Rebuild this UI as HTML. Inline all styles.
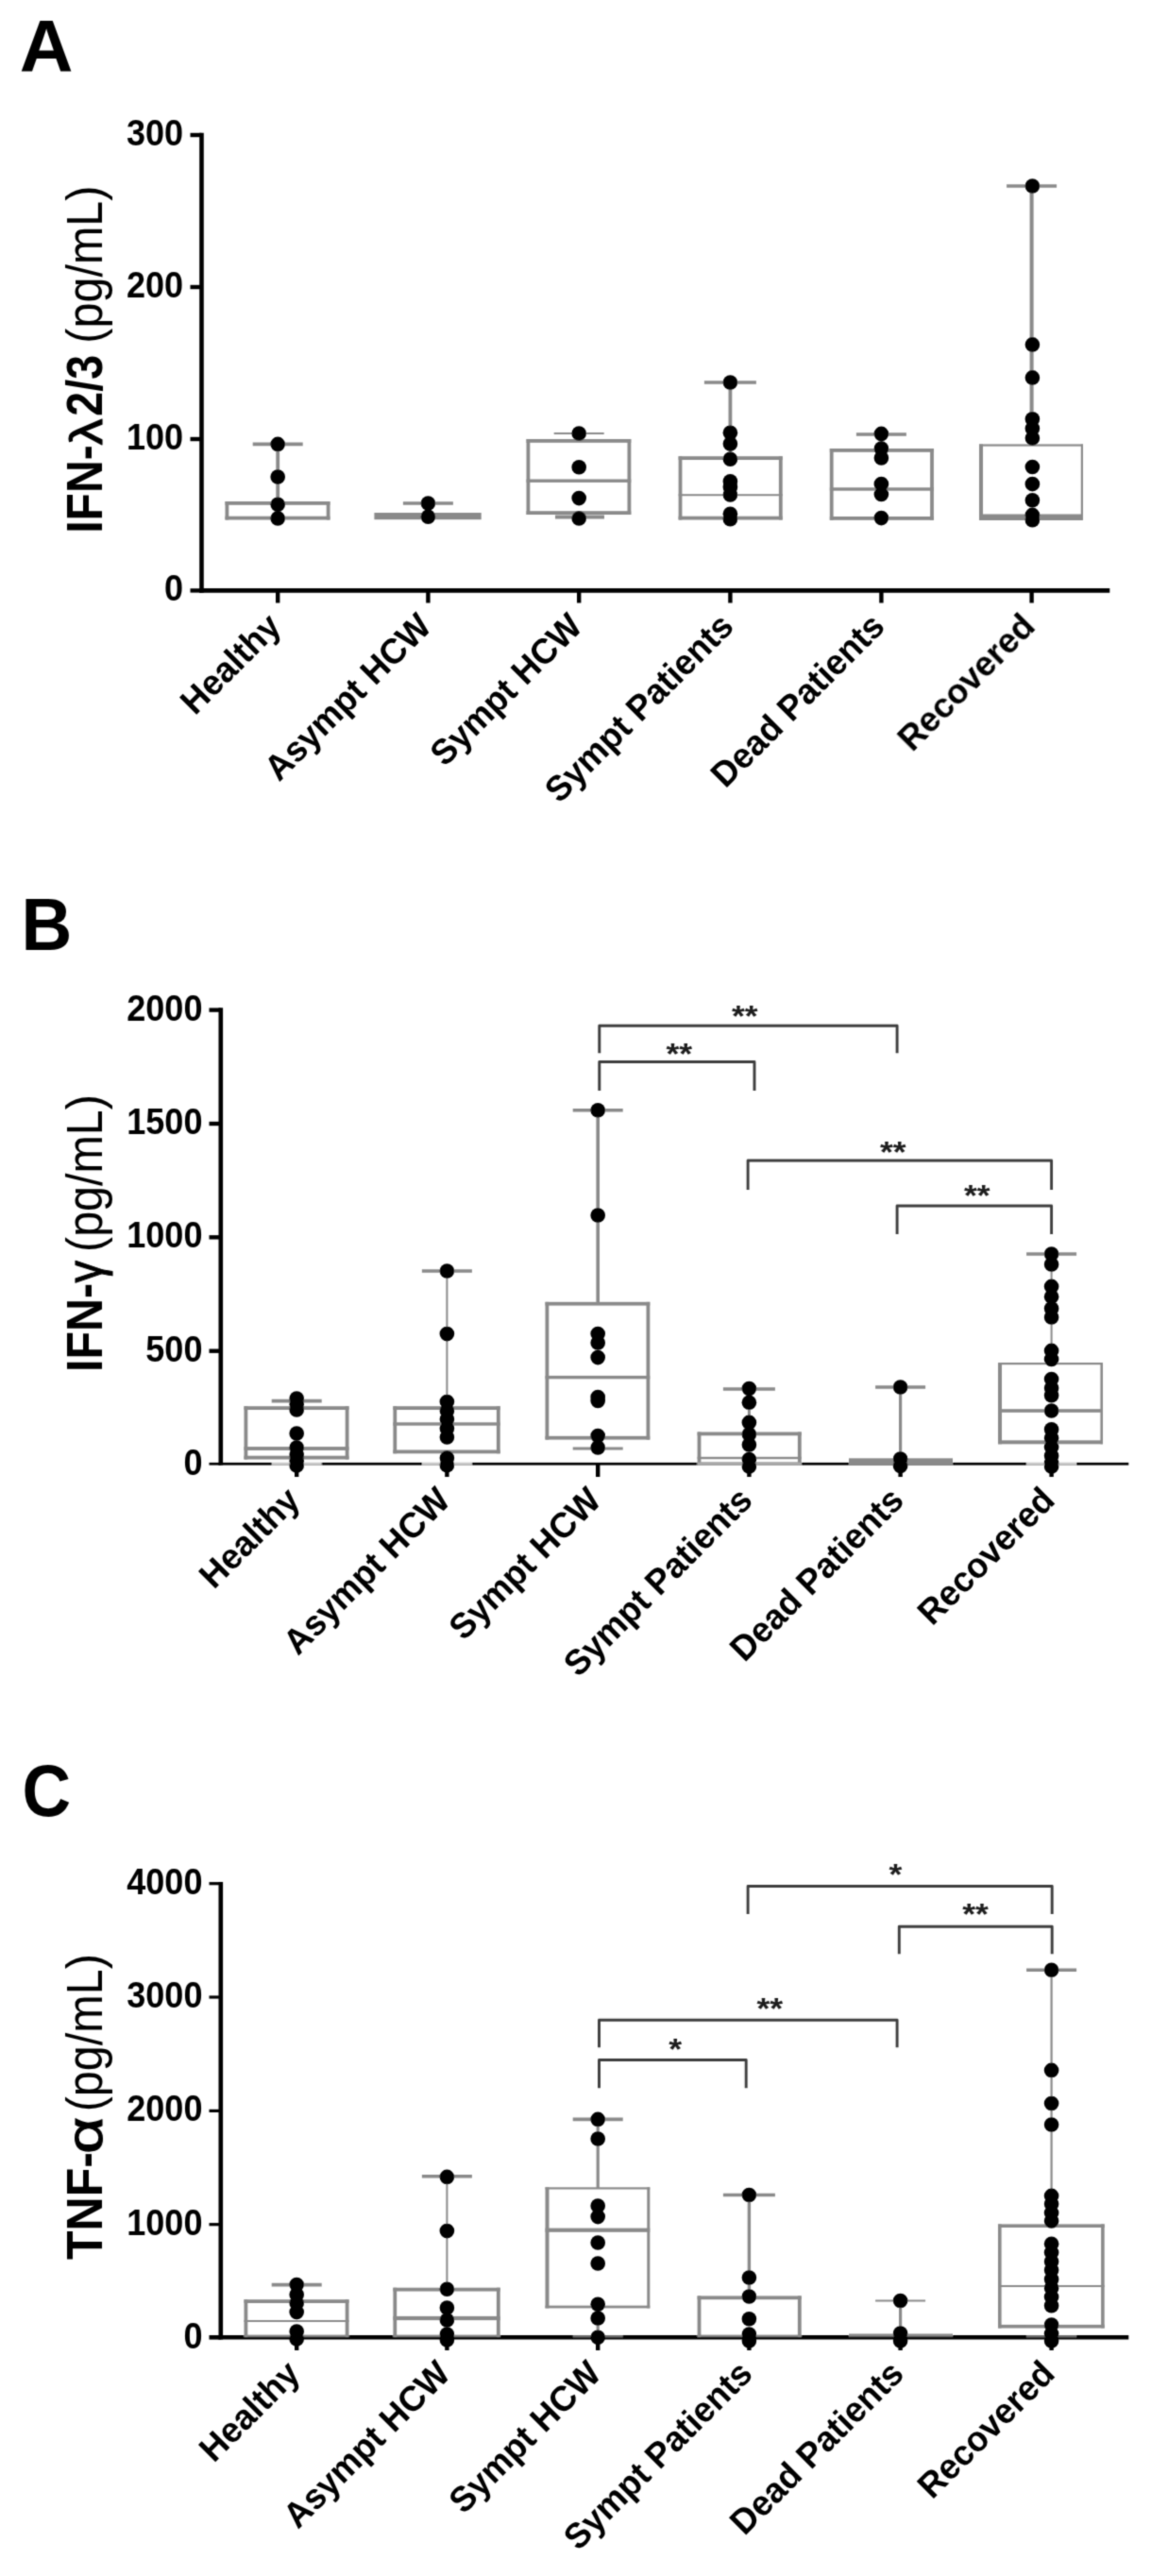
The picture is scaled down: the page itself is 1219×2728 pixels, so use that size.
<!DOCTYPE html>
<html lang="en"><head><meta charset="utf-8"><title>Figure</title>
<style>html,body{margin:0;padding:0;background:#fff}svg{display:block}text{font-family:'Liberation Sans', Arial, sans-serif}</style>
</head><body>
<svg width="1219" height="2728" viewBox="0 0 1219 2728">
<defs><filter id="soft" x="0" y="0" width="1219" height="2728" filterUnits="userSpaceOnUse"><feConvolveMatrix order="3" kernelMatrix="0.0277 0.1110 0.0277 0.1110 0.4452 0.1110 0.0277 0.1110 0.0277" divisor="1" edgeMode="duplicate" preserveAlpha="false"/></filter></defs>
<rect width="1219" height="2728" fill="#fff"/>
<g filter="url(#soft)">
<g id="panelA">
<text x="20.7" y="76.2" font-size="78.5" font-weight="bold">A</text>
<line x1="213.5" y1="140.7" x2="213.5" y2="627.7" stroke="#000" stroke-width="4.6" stroke-linecap="butt"/>
<line x1="211.2" y1="625.4" x2="1175.3" y2="625.4" stroke="#000" stroke-width="4.6" stroke-linecap="butt"/>
<line x1="201.5" y1="143" x2="213.5" y2="143" stroke="#000" stroke-width="4.4" stroke-linecap="butt"/>
<text transform="translate(194.1 153.9) scale(0.95 1)" font-size="38" font-weight="bold" text-anchor="end">300</text>
<line x1="201.5" y1="304" x2="213.5" y2="304" stroke="#000" stroke-width="4.4" stroke-linecap="butt"/>
<text transform="translate(194.1 314.9) scale(0.95 1)" font-size="38" font-weight="bold" text-anchor="end">200</text>
<line x1="201.5" y1="465" x2="213.5" y2="465" stroke="#000" stroke-width="4.4" stroke-linecap="butt"/>
<text transform="translate(194.1 475.9) scale(0.95 1)" font-size="38" font-weight="bold" text-anchor="end">100</text>
<line x1="201.5" y1="625.4" x2="213.5" y2="625.4" stroke="#000" stroke-width="4.4" stroke-linecap="butt"/>
<text transform="translate(194.1 636.3) scale(0.95 1)" font-size="38" font-weight="bold" text-anchor="end">0</text>
<line x1="294.2" y1="625.4" x2="294.2" y2="638.5" stroke="#000" stroke-width="4.4" stroke-linecap="butt"/>
<line x1="453.4" y1="625.4" x2="453.4" y2="638.5" stroke="#000" stroke-width="4.4" stroke-linecap="butt"/>
<line x1="613.2" y1="625.4" x2="613.2" y2="638.5" stroke="#000" stroke-width="4.4" stroke-linecap="butt"/>
<line x1="773.4" y1="625.4" x2="773.4" y2="638.5" stroke="#000" stroke-width="4.4" stroke-linecap="butt"/>
<line x1="933.4" y1="625.4" x2="933.4" y2="638.5" stroke="#000" stroke-width="4.4" stroke-linecap="butt"/>
<line x1="1092.6" y1="625.4" x2="1092.6" y2="638.5" stroke="#000" stroke-width="4.4" stroke-linecap="butt"/>
<text transform="translate(107.9 564.85) rotate(-90) scale(0.8978 1)" font-family="'Liberation Sans',Arial,sans-serif" font-weight="bold" font-size="53.6">IFN-</text>
<text transform="translate(107.9 471.23) rotate(-90) scale(1.1556 1)" font-family="'Liberation Serif','Times New Roman',serif" font-weight="normal" font-size="48" stroke="#000" stroke-width="1.1" stroke-linejoin="round">λ</text>
<text transform="translate(107.9 440.63) rotate(-90) scale(0.8678 1)" font-family="'Liberation Sans',Arial,sans-serif" font-weight="bold" font-size="53.6">2/3</text>
<text transform="translate(107.9 363.63) rotate(-90) scale(0.9053 1)" font-family="'Liberation Sans',Arial,sans-serif" font-weight="normal" font-size="53.6">(pg/mL)</text>
<text transform="translate(299.7 665.3) rotate(-45) scale(0.973 1)" font-size="37.5" font-weight="bold" text-anchor="end">Healthy</text>
<text transform="translate(458.9 665.3) rotate(-45) scale(0.973 1)" font-size="37.5" font-weight="bold" text-anchor="end">Asympt HCW</text>
<text transform="translate(618.7 665.3) rotate(-45) scale(0.973 1)" font-size="37.5" font-weight="bold" text-anchor="end">Sympt HCW</text>
<text transform="translate(778.9 665.3) rotate(-45) scale(0.973 1)" font-size="37.5" font-weight="bold" text-anchor="end">Sympt Patients</text>
<text transform="translate(938.9 665.3) rotate(-45) scale(0.973 1)" font-size="37.5" font-weight="bold" text-anchor="end">Dead Patients</text>
<text transform="translate(1098.1 665.3) rotate(-45) scale(0.973 1)" font-size="37.5" font-weight="bold" text-anchor="end">Recovered</text>
<line x1="294.2" y1="470.4" x2="294.2" y2="531" stroke="#8a8a8a" stroke-width="3.8" stroke-linecap="butt"/>
<line x1="267.7" y1="470.4" x2="320.7" y2="470.4" stroke="#8a8a8a" stroke-width="3.6" stroke-linecap="butt"/>
<rect x="238.5" y="531" width="111" height="3.8" fill="#8a8a8a"/>
<rect x="238.5" y="546.7" width="111" height="3.8" fill="#8a8a8a"/>
<rect x="238.5" y="531" width="3.8" height="19.5" fill="#8a8a8a"/>
<rect x="345.7" y="531" width="3.8" height="19.5" fill="#8a8a8a"/>
<circle cx="294.2" cy="470.4" r="7.8"/>
<circle cx="294.2" cy="505.1" r="7.8"/>
<circle cx="294.2" cy="534.2" r="7.8"/>
<circle cx="294.2" cy="548.9" r="7.8"/>
<line x1="453.4" y1="533" x2="453.4" y2="545" stroke="#8a8a8a" stroke-width="3.8" stroke-linecap="butt"/>
<line x1="426.9" y1="533" x2="479.9" y2="533" stroke="#8a8a8a" stroke-width="3.6" stroke-linecap="butt"/>
<rect x="396.4" y="543" width="113.3" height="7.2" fill="#8a8a8a"/>
<circle cx="453.4" cy="533" r="7.8"/>
<circle cx="453.4" cy="547.3" r="7.8"/>
<line x1="586.7" y1="459" x2="639.7" y2="459" stroke="#8a8a8a" stroke-width="2.2" stroke-linecap="butt"/>
<line x1="613.2" y1="459" x2="613.2" y2="465" stroke="#8a8a8a" stroke-width="3.8" stroke-linecap="butt"/>
<rect x="588" y="545.5" width="52" height="4" fill="#8a8a8a"/>
<rect x="557.5" y="465" width="110.8" height="3.8" fill="#8a8a8a"/>
<rect x="557.5" y="541.2" width="110.8" height="3.8" fill="#8a8a8a"/>
<rect x="557.5" y="465" width="3.8" height="80" fill="#8a8a8a"/>
<rect x="664.5" y="465" width="3.8" height="80" fill="#8a8a8a"/>
<rect x="557.5" y="507.5" width="110.8" height="3.4" fill="#8a8a8a"/>
<circle cx="613.2" cy="459" r="7.8"/>
<circle cx="613.2" cy="494.8" r="7.8"/>
<circle cx="613.2" cy="527.6" r="7.8"/>
<circle cx="613.2" cy="549" r="7.8"/>
<line x1="773.4" y1="405" x2="773.4" y2="484" stroke="#8a8a8a" stroke-width="3.8" stroke-linecap="butt"/>
<line x1="745.9" y1="405" x2="800.9" y2="405" stroke="#8a8a8a" stroke-width="3.6" stroke-linecap="butt"/>
<rect x="718.6" y="483.2" width="110.1" height="3.8" fill="#8a8a8a"/>
<rect x="718.6" y="546.7" width="110.1" height="3.8" fill="#8a8a8a"/>
<rect x="718.6" y="483.2" width="3.8" height="67.3" fill="#8a8a8a"/>
<rect x="824.9" y="483.2" width="3.8" height="67.3" fill="#8a8a8a"/>
<rect x="718.6" y="523.2" width="110.1" height="2" fill="#8a8a8a"/>
<circle cx="773.4" cy="405" r="7.8"/>
<circle cx="773.4" cy="458.2" r="7.8"/>
<circle cx="773.4" cy="470" r="7.8"/>
<circle cx="773.4" cy="486.3" r="7.8"/>
<circle cx="773.4" cy="509.8" r="7.8"/>
<circle cx="773.4" cy="516" r="7.8"/>
<circle cx="773.4" cy="523.9" r="7.8"/>
<circle cx="773.4" cy="544.2" r="7.8"/>
<circle cx="773.4" cy="549.8" r="7.8"/>
<line x1="933.4" y1="460" x2="933.4" y2="476" stroke="#8a8a8a" stroke-width="3.8" stroke-linecap="butt"/>
<line x1="906.9" y1="460" x2="959.9" y2="460" stroke="#8a8a8a" stroke-width="3.6" stroke-linecap="butt"/>
<rect x="878.8" y="475" width="110.1" height="3.8" fill="#8a8a8a"/>
<rect x="878.8" y="547" width="110.1" height="3.8" fill="#8a8a8a"/>
<rect x="878.8" y="475" width="3.8" height="75.8" fill="#8a8a8a"/>
<rect x="985.1" y="475" width="3.8" height="75.8" fill="#8a8a8a"/>
<rect x="878.8" y="516.3" width="110.1" height="3.4" fill="#8a8a8a"/>
<circle cx="933.4" cy="459.4" r="7.8"/>
<circle cx="933.4" cy="475" r="7.8"/>
<circle cx="933.4" cy="485" r="7.8"/>
<circle cx="933.4" cy="512.6" r="7.8"/>
<circle cx="933.4" cy="523.5" r="7.8"/>
<circle cx="933.4" cy="548.6" r="7.8"/>
<line x1="1092.6" y1="197" x2="1092.6" y2="472" stroke="#8a8a8a" stroke-width="4" stroke-linecap="butt"/>
<line x1="1066.1" y1="197" x2="1119.1" y2="197" stroke="#8a8a8a" stroke-width="3.6" stroke-linecap="butt"/>
<rect x="1037" y="470.4" width="110" height="2.2" fill="#8a8a8a"/>
<rect x="1037" y="544.5" width="110" height="6.5" fill="#8a8a8a"/>
<rect x="1037" y="470.4" width="4" height="80.6" fill="#8a8a8a"/>
<rect x="1144.8" y="470.4" width="2.2" height="80.6" fill="#8a8a8a"/>
<circle cx="1093.4" cy="197" r="7.8"/>
<circle cx="1093.4" cy="364.9" r="7.8"/>
<circle cx="1093.4" cy="399.9" r="7.8"/>
<circle cx="1093.4" cy="443.8" r="7.8"/>
<circle cx="1093.4" cy="453.8" r="7.8"/>
<circle cx="1093.4" cy="464" r="7.8"/>
<circle cx="1093.4" cy="494.5" r="7.8"/>
<circle cx="1093.4" cy="512.6" r="7.8"/>
<circle cx="1093.4" cy="529.8" r="7.8"/>
<circle cx="1093.4" cy="545.4" r="7.8"/>
<circle cx="1093.4" cy="550.8" r="7.8"/>
</g>
<g id="panelB">
<text transform="translate(22.4 1005.5) scale(0.95 1)" font-size="78.5" font-weight="bold">B</text>
<line x1="233.8" y1="1067.3" x2="233.8" y2="1551.6" stroke="#000" stroke-width="4.6" stroke-linecap="butt"/>
<rect x="231.5" y="1548.9" width="963.8" height="2.7" fill="#000"/>
<line x1="221.5" y1="1069.6" x2="233.8" y2="1069.6" stroke="#000" stroke-width="4.4" stroke-linecap="butt"/>
<text transform="translate(214.5 1080.5) scale(0.95 1)" font-size="38" font-weight="bold" text-anchor="end">2000</text>
<line x1="221.5" y1="1190" x2="233.8" y2="1190" stroke="#000" stroke-width="4.4" stroke-linecap="butt"/>
<text transform="translate(214.5 1200.9) scale(0.95 1)" font-size="38" font-weight="bold" text-anchor="end">1500</text>
<line x1="221.5" y1="1310.3" x2="233.8" y2="1310.3" stroke="#000" stroke-width="4.4" stroke-linecap="butt"/>
<text transform="translate(214.5 1321.2) scale(0.95 1)" font-size="38" font-weight="bold" text-anchor="end">1000</text>
<line x1="221.5" y1="1430.7" x2="233.8" y2="1430.7" stroke="#000" stroke-width="4.4" stroke-linecap="butt"/>
<text transform="translate(214.5 1441.6) scale(0.95 1)" font-size="38" font-weight="bold" text-anchor="end">500</text>
<rect x="221.5" y="1548.9" width="12.3" height="2.7" fill="#000"/>
<text transform="translate(214.5 1562.3) scale(0.95 1)" font-size="38" font-weight="bold" text-anchor="end">0</text>
<line x1="314.2" y1="1550" x2="314.2" y2="1564" stroke="#000" stroke-width="4.4" stroke-linecap="butt"/>
<line x1="473.4" y1="1550" x2="473.4" y2="1564" stroke="#000" stroke-width="4.4" stroke-linecap="butt"/>
<line x1="633.2" y1="1550" x2="633.2" y2="1564" stroke="#000" stroke-width="4.4" stroke-linecap="butt"/>
<line x1="793.4" y1="1550" x2="793.4" y2="1564" stroke="#000" stroke-width="4.4" stroke-linecap="butt"/>
<line x1="953.6" y1="1550" x2="953.6" y2="1564" stroke="#000" stroke-width="4.4" stroke-linecap="butt"/>
<line x1="1113.6" y1="1550" x2="1113.6" y2="1564" stroke="#000" stroke-width="4.4" stroke-linecap="butt"/>
<text transform="translate(107.9 1453.08) rotate(-90) scale(0.9059 1)" font-family="'Liberation Sans',Arial,sans-serif" font-weight="bold" font-size="53.6">IFN-</text>
<text transform="translate(107.9 1358.48) rotate(-90) scale(0.8804 1)" font-family="'Liberation Serif','Times New Roman',serif" font-weight="normal" font-size="53.5" stroke="#000" stroke-width="1.1" stroke-linejoin="round">γ</text>
<text transform="translate(107.9 1325.93) rotate(-90) scale(0.9031 1)" font-family="'Liberation Sans',Arial,sans-serif" font-weight="normal" font-size="53.6">(pg/mL)</text>
<text transform="translate(319.7 1590.8) rotate(-45) scale(0.973 1)" font-size="37.5" font-weight="bold" text-anchor="end">Healthy</text>
<text transform="translate(478.9 1590.8) rotate(-45) scale(0.973 1)" font-size="37.5" font-weight="bold" text-anchor="end">Asympt HCW</text>
<text transform="translate(638.7 1590.8) rotate(-45) scale(0.973 1)" font-size="37.5" font-weight="bold" text-anchor="end">Sympt HCW</text>
<text transform="translate(798.9 1590.8) rotate(-45) scale(0.973 1)" font-size="37.5" font-weight="bold" text-anchor="end">Sympt Patients</text>
<text transform="translate(959.1 1590.8) rotate(-45) scale(0.973 1)" font-size="37.5" font-weight="bold" text-anchor="end">Dead Patients</text>
<text transform="translate(1119.1 1590.8) rotate(-45) scale(0.973 1)" font-size="37.5" font-weight="bold" text-anchor="end">Recovered</text>
<line x1="314.2" y1="1483.6" x2="314.2" y2="1490" stroke="#8a8a8a" stroke-width="3.8" stroke-linecap="butt"/>
<line x1="287.7" y1="1483.6" x2="340.7" y2="1483.6" stroke="#8a8a8a" stroke-width="3.6" stroke-linecap="butt"/>
<line x1="287.7" y1="1550.3" x2="340.7" y2="1550.3" stroke="#c9c9c9" stroke-width="2.7" stroke-linecap="butt"/>
<rect x="258.5" y="1489.2" width="111" height="3.8" fill="#8a8a8a"/>
<rect x="258.5" y="1541.7" width="111" height="3.8" fill="#8a8a8a"/>
<rect x="258.5" y="1489.2" width="3.8" height="56.3" fill="#8a8a8a"/>
<rect x="365.7" y="1489.2" width="3.8" height="56.3" fill="#8a8a8a"/>
<rect x="258.5" y="1532.1" width="111" height="3.8" fill="#8a8a8a"/>
<circle cx="314.2" cy="1481" r="7.8"/>
<circle cx="314.2" cy="1487" r="7.8"/>
<circle cx="314.2" cy="1493" r="7.8"/>
<circle cx="314.2" cy="1518" r="7.8"/>
<circle cx="314.2" cy="1533" r="7.8"/>
<circle cx="314.2" cy="1540.8" r="7.8"/>
<circle cx="314.2" cy="1547" r="7.8"/>
<circle cx="314.2" cy="1552" r="7.8"/>
<line x1="473.4" y1="1346" x2="473.4" y2="1490" stroke="#8a8a8a" stroke-width="2" stroke-linecap="butt"/>
<line x1="446.9" y1="1346" x2="499.9" y2="1346" stroke="#8a8a8a" stroke-width="3.6" stroke-linecap="butt"/>
<line x1="446.9" y1="1550.3" x2="499.9" y2="1550.3" stroke="#c9c9c9" stroke-width="2.7" stroke-linecap="butt"/>
<rect x="416.4" y="1489.2" width="113.3" height="3.8" fill="#8a8a8a"/>
<rect x="416.4" y="1535.5" width="113.3" height="3.8" fill="#8a8a8a"/>
<rect x="416.4" y="1489.2" width="3.8" height="50.1" fill="#8a8a8a"/>
<rect x="525.9" y="1489.2" width="3.8" height="50.1" fill="#8a8a8a"/>
<rect x="416.4" y="1506.3" width="113.3" height="3.4" fill="#8a8a8a"/>
<circle cx="473.4" cy="1346" r="7.8"/>
<circle cx="473.4" cy="1412.6" r="7.8"/>
<circle cx="473.4" cy="1484.5" r="7.8"/>
<circle cx="473.4" cy="1494" r="7.8"/>
<circle cx="473.4" cy="1503" r="7.8"/>
<circle cx="473.4" cy="1512.7" r="7.8"/>
<circle cx="473.4" cy="1522" r="7.8"/>
<circle cx="473.4" cy="1544" r="7.8"/>
<circle cx="473.4" cy="1551.8" r="7.8"/>
<line x1="633.2" y1="1175.7" x2="633.2" y2="1380" stroke="#8a8a8a" stroke-width="3.6" stroke-linecap="butt"/>
<line x1="633.2" y1="1524" x2="633.2" y2="1534" stroke="#8a8a8a" stroke-width="3.2" stroke-linecap="butt"/>
<line x1="606.7" y1="1175.7" x2="659.7" y2="1175.7" stroke="#8a8a8a" stroke-width="3.6" stroke-linecap="butt"/>
<line x1="606.7" y1="1534" x2="659.7" y2="1534" stroke="#8a8a8a" stroke-width="3.2" stroke-linecap="butt"/>
<rect x="577.5" y="1378.8" width="110.8" height="3.8" fill="#8a8a8a"/>
<rect x="577.5" y="1520.8" width="110.8" height="3.8" fill="#8a8a8a"/>
<rect x="577.5" y="1378.8" width="3.8" height="145.8" fill="#8a8a8a"/>
<rect x="684.5" y="1378.8" width="3.8" height="145.8" fill="#8a8a8a"/>
<rect x="577.5" y="1456.9" width="110.8" height="3.4" fill="#8a8a8a"/>
<circle cx="633.2" cy="1175.7" r="7.8"/>
<circle cx="633.2" cy="1287" r="7.8"/>
<circle cx="633.2" cy="1412.6" r="7.8"/>
<circle cx="633.2" cy="1422" r="7.8"/>
<circle cx="633.2" cy="1437.6" r="7.8"/>
<circle cx="633.2" cy="1479.5" r="7.8"/>
<circle cx="633.2" cy="1483.5" r="7.8"/>
<circle cx="633.2" cy="1520.5" r="7.8"/>
<circle cx="633.2" cy="1533" r="7.8"/>
<line x1="793.4" y1="1471" x2="793.4" y2="1517" stroke="#8a8a8a" stroke-width="3" stroke-linecap="butt"/>
<line x1="765.9" y1="1471" x2="820.9" y2="1471" stroke="#8a8a8a" stroke-width="3.6" stroke-linecap="butt"/>
<rect x="738.6" y="1516.5" width="110.1" height="3.8" fill="#8a8a8a"/>
<rect x="738.6" y="1548.6" width="110.1" height="3.2" fill="#8a8a8a"/>
<rect x="738.6" y="1516.5" width="3.8" height="35.3" fill="#8a8a8a"/>
<rect x="844.9" y="1516.5" width="3.8" height="35.3" fill="#8a8a8a"/>
<rect x="738.6" y="1542.8" width="110.1" height="2.4" fill="#8a8a8a"/>
<rect x="738.6" y="1548.6" width="110.1" height="3.2" fill="#a8a8a8"/>
<circle cx="793.4" cy="1470.5" r="7.8"/>
<circle cx="793.4" cy="1485.2" r="7.8"/>
<circle cx="793.4" cy="1506.4" r="7.8"/>
<circle cx="793.4" cy="1519" r="7.8"/>
<circle cx="793.4" cy="1530" r="7.8"/>
<circle cx="793.4" cy="1545.5" r="7.8"/>
<circle cx="793.4" cy="1553" r="7.8"/>
<line x1="953.6" y1="1469" x2="953.6" y2="1546" stroke="#8a8a8a" stroke-width="3.2" stroke-linecap="butt"/>
<line x1="927.1" y1="1469" x2="980.1" y2="1469" stroke="#8a8a8a" stroke-width="3.6" stroke-linecap="butt"/>
<rect x="899" y="1544.3" width="110" height="7.5" fill="#8a8a8a"/>
<circle cx="953.6" cy="1469" r="7.8"/>
<circle cx="953.6" cy="1545" r="7.8"/>
<circle cx="953.6" cy="1552.5" r="7.8"/>
<line x1="1113.6" y1="1328" x2="1113.6" y2="1445" stroke="#8a8a8a" stroke-width="2" stroke-linecap="butt"/>
<line x1="1087.1" y1="1328" x2="1140.1" y2="1328" stroke="#8a8a8a" stroke-width="3.6" stroke-linecap="butt"/>
<line x1="1087.1" y1="1550.3" x2="1140.1" y2="1550.3" stroke="#c9c9c9" stroke-width="2.7" stroke-linecap="butt"/>
<rect x="1057" y="1443" width="111" height="2.2" fill="#8a8a8a"/>
<rect x="1057" y="1525.3" width="111" height="4" fill="#8a8a8a"/>
<rect x="1057" y="1443" width="4" height="86.3" fill="#8a8a8a"/>
<rect x="1165.4" y="1443" width="2.6" height="86.3" fill="#8a8a8a"/>
<rect x="1057" y="1492.2" width="111" height="3.6" fill="#8a8a8a"/>
<circle cx="1113.6" cy="1328" r="7.8"/>
<circle cx="1113.6" cy="1339" r="7.8"/>
<circle cx="1113.6" cy="1362.4" r="7.8"/>
<circle cx="1113.6" cy="1373.3" r="7.8"/>
<circle cx="1113.6" cy="1385.8" r="7.8"/>
<circle cx="1113.6" cy="1395" r="7.8"/>
<circle cx="1113.6" cy="1430.4" r="7.8"/>
<circle cx="1113.6" cy="1439.4" r="7.8"/>
<circle cx="1113.6" cy="1460.6" r="7.8"/>
<circle cx="1113.6" cy="1470" r="7.8"/>
<circle cx="1113.6" cy="1477.8" r="7.8"/>
<circle cx="1113.6" cy="1494" r="7.8"/>
<circle cx="1113.6" cy="1513.7" r="7.8"/>
<circle cx="1113.6" cy="1523" r="7.8"/>
<circle cx="1113.6" cy="1532.4" r="7.8"/>
<circle cx="1113.6" cy="1541.7" r="7.8"/>
<circle cx="1113.6" cy="1549.5" r="7.8"/>
<circle cx="1113.6" cy="1553" r="7.8"/>
<path d="M634.8 1115.3V1086.3H950.1V1115.3" fill="none" stroke="#3c3c3c" stroke-width="2.9" stroke-linejoin="round"/>
<text transform="translate(788.7 1087.35) scale(1.11 1)" font-size="32" font-weight="bold" text-anchor="middle" fill="#1a1a1a">**</text>
<path d="M634.8 1155V1124.5H799V1155" fill="none" stroke="#3c3c3c" stroke-width="2.9" stroke-linejoin="round"/>
<text transform="translate(719.2 1126.65) scale(1.11 1)" font-size="32" font-weight="bold" text-anchor="middle" fill="#1a1a1a">**</text>
<path d="M792.1 1260V1229H1113.6V1260" fill="none" stroke="#3c3c3c" stroke-width="2.9" stroke-linejoin="round"/>
<text transform="translate(945.8 1231.05) scale(1.11 1)" font-size="32" font-weight="bold" text-anchor="middle" fill="#1a1a1a">**</text>
<path d="M950.1 1307V1277H1113.6V1307" fill="none" stroke="#3c3c3c" stroke-width="2.9" stroke-linejoin="round"/>
<text transform="translate(1034.7 1277.35) scale(1.11 1)" font-size="32" font-weight="bold" text-anchor="middle" fill="#1a1a1a">**</text>
</g>
<g id="panelC">
<text transform="translate(23.4 1923) scale(0.92 1)" font-size="77.7" font-weight="bold">C</text>
<line x1="233.8" y1="1993.1" x2="233.8" y2="2477.6" stroke="#000" stroke-width="4.6" stroke-linecap="butt"/>
<line x1="231.5" y1="2475.3" x2="1195.3" y2="2475.3" stroke="#000" stroke-width="4.6" stroke-linecap="butt"/>
<line x1="221.5" y1="1994.7" x2="233.8" y2="1994.7" stroke="#000" stroke-width="3.2" stroke-linecap="butt"/>
<text transform="translate(214.5 2005.6) scale(0.95 1)" font-size="38" font-weight="bold" text-anchor="end">4000</text>
<line x1="221.5" y1="2115" x2="233.8" y2="2115" stroke="#000" stroke-width="3.2" stroke-linecap="butt"/>
<text transform="translate(214.5 2125.9) scale(0.95 1)" font-size="38" font-weight="bold" text-anchor="end">3000</text>
<line x1="221.5" y1="2235.4" x2="233.8" y2="2235.4" stroke="#000" stroke-width="3.2" stroke-linecap="butt"/>
<text transform="translate(214.5 2246.3) scale(0.95 1)" font-size="38" font-weight="bold" text-anchor="end">2000</text>
<line x1="221.5" y1="2355.7" x2="233.8" y2="2355.7" stroke="#000" stroke-width="3.2" stroke-linecap="butt"/>
<text transform="translate(214.5 2366.6) scale(0.95 1)" font-size="38" font-weight="bold" text-anchor="end">1000</text>
<line x1="221.5" y1="2475.3" x2="233.8" y2="2475.3" stroke="#000" stroke-width="4.6" stroke-linecap="butt"/>
<text transform="translate(214.5 2487.3) scale(0.95 1)" font-size="38" font-weight="bold" text-anchor="end">0</text>
<line x1="314.2" y1="2475.3" x2="314.2" y2="2489" stroke="#000" stroke-width="4.4" stroke-linecap="butt"/>
<line x1="473.4" y1="2475.3" x2="473.4" y2="2489" stroke="#000" stroke-width="4.4" stroke-linecap="butt"/>
<line x1="633.2" y1="2475.3" x2="633.2" y2="2489" stroke="#000" stroke-width="4.4" stroke-linecap="butt"/>
<line x1="793.4" y1="2475.3" x2="793.4" y2="2489" stroke="#000" stroke-width="4.4" stroke-linecap="butt"/>
<line x1="953.6" y1="2475.3" x2="953.6" y2="2489" stroke="#000" stroke-width="4.4" stroke-linecap="butt"/>
<line x1="1113.6" y1="2475.3" x2="1113.6" y2="2489" stroke="#000" stroke-width="4.4" stroke-linecap="butt"/>
<text transform="translate(107.9 2393) rotate(-90) scale(0.9339 1)" font-family="'Liberation Sans',Arial,sans-serif" font-weight="bold" font-size="53.6">TNF-</text>
<text transform="translate(107.9 2280.82) rotate(-90) scale(1.2700 1)" font-family="'Liberation Serif','Times New Roman',serif" font-weight="normal" font-size="53" stroke="#000" stroke-width="1.1" stroke-linejoin="round">α</text>
<text transform="translate(107.9 2236.33) rotate(-90) scale(0.9053 1)" font-family="'Liberation Sans',Arial,sans-serif" font-weight="normal" font-size="53.6">(pg/mL)</text>
<text transform="translate(319.7 2515.8) rotate(-45) scale(0.973 1)" font-size="37.5" font-weight="bold" text-anchor="end">Healthy</text>
<text transform="translate(478.9 2515.8) rotate(-45) scale(0.973 1)" font-size="37.5" font-weight="bold" text-anchor="end">Asympt HCW</text>
<text transform="translate(638.7 2515.8) rotate(-45) scale(0.973 1)" font-size="37.5" font-weight="bold" text-anchor="end">Sympt HCW</text>
<text transform="translate(798.9 2515.8) rotate(-45) scale(0.973 1)" font-size="37.5" font-weight="bold" text-anchor="end">Sympt Patients</text>
<text transform="translate(959.1 2515.8) rotate(-45) scale(0.973 1)" font-size="37.5" font-weight="bold" text-anchor="end">Dead Patients</text>
<text transform="translate(1119.1 2515.8) rotate(-45) scale(0.973 1)" font-size="37.5" font-weight="bold" text-anchor="end">Recovered</text>
<line x1="314.2" y1="2419.6" x2="314.2" y2="2436" stroke="#8a8a8a" stroke-width="3.8" stroke-linecap="butt"/>
<line x1="287.7" y1="2419.6" x2="340.7" y2="2419.6" stroke="#8a8a8a" stroke-width="3.6" stroke-linecap="butt"/>
<rect x="258.5" y="2435.2" width="111" height="3.8" fill="#8a8a8a"/>
<rect x="258.5" y="2472.6" width="111" height="2.2" fill="#8a8a8a"/>
<rect x="258.5" y="2435.2" width="3.8" height="39.6" fill="#8a8a8a"/>
<rect x="365.7" y="2435.2" width="3.8" height="39.6" fill="#8a8a8a"/>
<rect x="258.5" y="2457" width="111" height="2" fill="#8a8a8a"/>
<circle cx="314.2" cy="2419.6" r="7.8"/>
<circle cx="314.2" cy="2430" r="7.8"/>
<circle cx="314.2" cy="2439" r="7.8"/>
<circle cx="314.2" cy="2448.6" r="7.8"/>
<circle cx="314.2" cy="2469" r="7.8"/>
<circle cx="314.2" cy="2477" r="7.8"/>
<line x1="473.4" y1="2304.8" x2="473.4" y2="2424" stroke="#8a8a8a" stroke-width="2" stroke-linecap="butt"/>
<line x1="446.9" y1="2304.8" x2="499.9" y2="2304.8" stroke="#8a8a8a" stroke-width="3.6" stroke-linecap="butt"/>
<rect x="416.4" y="2422.7" width="113.3" height="3.8" fill="#8a8a8a"/>
<rect x="416.4" y="2472.6" width="113.3" height="2.2" fill="#8a8a8a"/>
<rect x="416.4" y="2422.7" width="3.8" height="52.1" fill="#8a8a8a"/>
<rect x="525.9" y="2422.7" width="3.8" height="52.1" fill="#8a8a8a"/>
<rect x="416.4" y="2452.9" width="113.3" height="4.2" fill="#8a8a8a"/>
<circle cx="473.4" cy="2305.4" r="7.8"/>
<circle cx="473.4" cy="2362.6" r="7.8"/>
<circle cx="473.4" cy="2424.2" r="7.8"/>
<circle cx="473.4" cy="2444" r="7.8"/>
<circle cx="473.4" cy="2457" r="7.8"/>
<circle cx="473.4" cy="2472" r="7.8"/>
<circle cx="473.4" cy="2478" r="7.8"/>
<line x1="633.2" y1="2244.4" x2="633.2" y2="2318" stroke="#8a8a8a" stroke-width="3.2" stroke-linecap="butt"/>
<line x1="633.2" y1="2443" x2="633.2" y2="2474" stroke="#8a8a8a" stroke-width="3.2" stroke-linecap="butt"/>
<line x1="606.7" y1="2244.4" x2="659.7" y2="2244.4" stroke="#8a8a8a" stroke-width="3.6" stroke-linecap="butt"/>
<line x1="606.7" y1="2474.2" x2="659.7" y2="2474.2" stroke="#6a6a6a" stroke-width="2.6" stroke-linecap="butt"/>
<rect x="577.5" y="2316.3" width="110.8" height="2.2" fill="#8a8a8a"/>
<rect x="577.5" y="2441.6" width="110.8" height="2.8" fill="#8a8a8a"/>
<rect x="577.5" y="2316.3" width="4" height="128.1" fill="#8a8a8a"/>
<rect x="685.3" y="2316.3" width="3" height="128.1" fill="#8a8a8a"/>
<rect x="577.5" y="2359.6" width="110.8" height="4.2" fill="#8a8a8a"/>
<circle cx="633.2" cy="2244.4" r="7.8"/>
<circle cx="633.2" cy="2265" r="7.8"/>
<circle cx="633.2" cy="2336" r="7.8"/>
<circle cx="633.2" cy="2347.6" r="7.8"/>
<circle cx="633.2" cy="2375" r="7.8"/>
<circle cx="633.2" cy="2397" r="7.8"/>
<circle cx="633.2" cy="2440.2" r="7.8"/>
<circle cx="633.2" cy="2455" r="7.8"/>
<circle cx="633.2" cy="2475.2" r="7.8"/>
<line x1="793.4" y1="2324.5" x2="793.4" y2="2432" stroke="#8a8a8a" stroke-width="3.4" stroke-linecap="butt"/>
<line x1="765.9" y1="2324.5" x2="820.9" y2="2324.5" stroke="#8a8a8a" stroke-width="3.6" stroke-linecap="butt"/>
<rect x="738.6" y="2431.4" width="110.1" height="3.8" fill="#8a8a8a"/>
<rect x="738.6" y="2472.6" width="110.1" height="2.2" fill="#8a8a8a"/>
<rect x="738.6" y="2431.4" width="3.8" height="43.4" fill="#8a8a8a"/>
<rect x="844.9" y="2431.4" width="3.8" height="43.4" fill="#8a8a8a"/>
<circle cx="793.4" cy="2324.5" r="7.8"/>
<circle cx="793.4" cy="2412" r="7.8"/>
<circle cx="793.4" cy="2432" r="7.8"/>
<circle cx="793.4" cy="2455.8" r="7.8"/>
<circle cx="793.4" cy="2472" r="7.8"/>
<circle cx="793.4" cy="2479" r="7.8"/>
<line x1="953.6" y1="2436.5" x2="953.6" y2="2473" stroke="#8a8a8a" stroke-width="3.2" stroke-linecap="butt"/>
<line x1="927.1" y1="2436.5" x2="980.1" y2="2436.5" stroke="#8a8a8a" stroke-width="1.8" stroke-linecap="butt"/>
<rect x="899" y="2471.5" width="110" height="3.1" fill="#8a8a8a"/>
<circle cx="953.6" cy="2436.5" r="7.8"/>
<circle cx="953.6" cy="2471" r="7.8"/>
<circle cx="953.6" cy="2479" r="7.8"/>
<line x1="1113.6" y1="2086.3" x2="1113.6" y2="2356" stroke="#8a8a8a" stroke-width="2.2" stroke-linecap="butt"/>
<line x1="1087.1" y1="2086.3" x2="1140.1" y2="2086.3" stroke="#8a8a8a" stroke-width="3.6" stroke-linecap="butt"/>
<line x1="1087.1" y1="2474.2" x2="1140.1" y2="2474.2" stroke="#6a6a6a" stroke-width="2.6" stroke-linecap="butt"/>
<rect x="1057" y="2355.4" width="112.7" height="3.6" fill="#8a8a8a"/>
<rect x="1057" y="2461.9" width="112.7" height="3.6" fill="#8a8a8a"/>
<rect x="1057" y="2355.4" width="3.6" height="110.1" fill="#8a8a8a"/>
<rect x="1166.1" y="2355.4" width="3.6" height="110.1" fill="#8a8a8a"/>
<rect x="1057" y="2420" width="112.7" height="2" fill="#8a8a8a"/>
<circle cx="1113.6" cy="2086.3" r="7.8"/>
<circle cx="1113.6" cy="2192.4" r="7.8"/>
<circle cx="1113.6" cy="2227.5" r="7.8"/>
<circle cx="1113.6" cy="2250" r="7.8"/>
<circle cx="1113.6" cy="2325.4" r="7.8"/>
<circle cx="1113.6" cy="2334" r="7.8"/>
<circle cx="1113.6" cy="2343.5" r="7.8"/>
<circle cx="1113.6" cy="2352" r="7.8"/>
<circle cx="1113.6" cy="2376.3" r="7.8"/>
<circle cx="1113.6" cy="2385.6" r="7.8"/>
<circle cx="1113.6" cy="2395" r="7.8"/>
<circle cx="1113.6" cy="2404" r="7.8"/>
<circle cx="1113.6" cy="2413.7" r="7.8"/>
<circle cx="1113.6" cy="2423" r="7.8"/>
<circle cx="1113.6" cy="2432.4" r="7.8"/>
<circle cx="1113.6" cy="2441.8" r="7.8"/>
<circle cx="1113.6" cy="2462" r="7.8"/>
<circle cx="1113.6" cy="2471.4" r="7.8"/>
<circle cx="1113.6" cy="2479" r="7.8"/>
<path d="M792.1 2027V1997.5H1114.2V2027" fill="none" stroke="#3c3c3c" stroke-width="2.9" stroke-linejoin="round"/>
<text transform="translate(948.3 1995.85) scale(1.11 1)" font-size="32" font-weight="bold" text-anchor="middle" fill="#1a1a1a">*</text>
<path d="M952.3 2069.2V2040.2H1114.2V2069.2" fill="none" stroke="#3c3c3c" stroke-width="2.9" stroke-linejoin="round"/>
<text transform="translate(1033 2038.05) scale(1.11 1)" font-size="32" font-weight="bold" text-anchor="middle" fill="#1a1a1a">**</text>
<path d="M634.5 2168.2V2139.2H950.1V2168.2" fill="none" stroke="#3c3c3c" stroke-width="2.9" stroke-linejoin="round"/>
<text transform="translate(815.3 2137.55) scale(1.11 1)" font-size="32" font-weight="bold" text-anchor="middle" fill="#1a1a1a">**</text>
<path d="M634.5 2211.2V2181.5H790.2V2211.2" fill="none" stroke="#3c3c3c" stroke-width="2.9" stroke-linejoin="round"/>
<text transform="translate(715.2 2181.35) scale(1.11 1)" font-size="32" font-weight="bold" text-anchor="middle" fill="#1a1a1a">*</text>
</g>
</g>
</svg>
</body></html>
